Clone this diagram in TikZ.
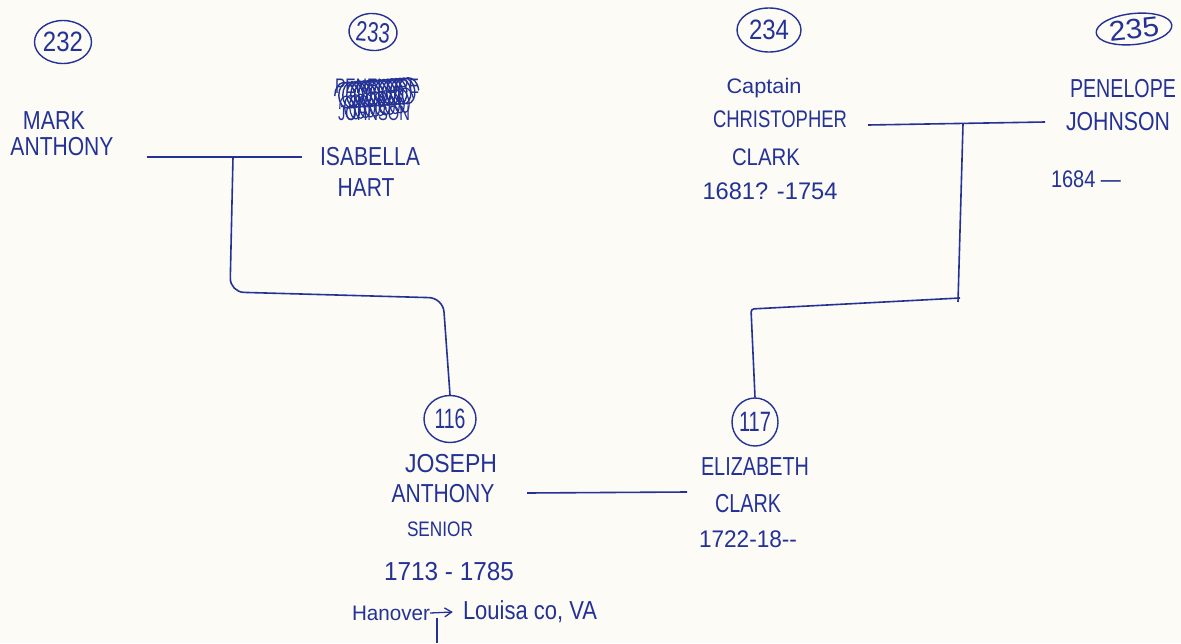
\documentclass[tikz,border=0pt]{standalone}
\usepackage{fontspec}
\setmainfont{Liberation Sans}
\usetikzlibrary{shapes.geometric,decorations.pathmorphing,arrows.meta}
\definecolor{ink}{RGB}{36,50,150}
\definecolor{paper}{RGB}{252,251,246}
\newcommand{\hw}[2]{\resizebox{#1pt}{\height}{#2}}
\tikzset{
  hw/.style={inner sep=0pt, text=ink, font=\fontsize{26}{27}\selectfont, anchor=center},
  mid/.style={hw, font=\fontsize{24}{25}\selectfont},
  small/.style={hw, font=\fontsize{21}{22}\selectfont},
  num/.style={ellipse, draw=ink, line width=1.4pt, inner sep=0pt, text=ink, font=\fontsize{28}{28}\selectfont},
  wire/.style={draw=ink, line width=1.6pt, rounded corners=10pt},
  scrib/.style={draw=ink, line width=1.4pt, decorate},
}
\begin{document}
\begin{tikzpicture}[x=1pt,y=-1pt]
\fill[paper] (0,0) rectangle (1181,643);
\useasboundingbox (0,0) rectangle (1181,643);

% generation 1, left couple
\node[num, minimum width=57pt, minimum height=43pt] (n232) at (63,42) {\hw{40}{232}};
\node[hw] (mark) at (54,121) {\hw{62}{MARK}};
\node[hw] (anthony) at (62,147) {\hw{103}{ANTHONY}};

\node[num, minimum width=48pt, minimum height=37pt, rotate=-5] (n233) at (373,32) {\hw{34}{233}};
\node[small] (pen1) at (377,86) {\hw{84}{PENELOPE}};
\node[small] (joh1) at (374,113) {\hw{72}{JOHNSON}};
\draw[scrib, decoration={coil, aspect=0.7, segment length=4pt, amplitude=13pt}]
  (pen1.west) ++(0,10) coordinate (s1) -- ++(84,-6) coordinate (s2);
\draw[scrib, line width=1.2pt, decoration={coil, aspect=0.5, segment length=5pt, amplitude=12pt}]
  (joh1.west) ++(2,-4) coordinate (s3) -- ++(74,-10) coordinate (s4);
\node[hw] (isabella) at (370,157) {\hw{100}{ISABELLA}};
\node[hw] (hart) at (366,188) {\hw{57}{HART}};

% generation 1, right couple
\node[num, minimum width=64pt, minimum height=44pt] (n234) at (769,30) {\hw{40}{234}};
\node[small] (captain) at (764,88) {\hw{75}{Captain}};
\node[mid] (christopher) at (780,119) {\hw{134}{CHRISTOPHER}};
\node[mid] (clark1) at (766,157) {\hw{68}{CLARK}};
\node[mid] (d234) at (770,191) {\hw{135}{1681? -1754}};

\node[num, minimum width=76pt, minimum height=31pt, rotate=6] (n235) at (1134,29) {\hw{50}{235}};
\node[hw] (penelope) at (1123,89) {\hw{106}{PENELOPE}};
\node[hw] (johnson) at (1118,122) {\hw{104}{JOHNSON}};
\node[mid] (d235) at (1086,179) {\hw{70}{1684 —}};

% generation 2
\node[num, minimum width=52pt, minimum height=47pt] (n116) at (450,419) {\hw{31}{116}};
\node[hw] (joseph) at (451,464) {\hw{92}{JOSEPH}};
\node[hw] (anthony2) at (443,494) {\hw{103}{ANTHONY}};
\node[small] (senior) at (440,529) {\hw{66}{SENIOR}};
\node[hw] (d116) at (449,572) {\hw{130}{1713 - 1785}};
\node[small] (hanover) at (391,613) {\hw{78}{Hanover}};
\node[hw] (louisa) at (530,612) {\hw{134}{Louisa co, VA}};

\node[num, minimum width=46pt, minimum height=48pt] (n117) at (755,422) {\hw{32}{117}};
\node[hw] (elizabeth) at (755,467) {\hw{108}{ELIZABETH}};
\node[hw] (clark2) at (748,504) {\hw{66}{CLARK}};
\node[mid] (d117) at (748,539) {\hw{98}{1722-18-{}-}};

% junction coordinates
\coordinate (a1) at (147,157);
\coordinate (a2) at (302,157);
\coordinate (ja) at (233,157);
\coordinate (b1) at (868,125);
\coordinate (b2) at (1045,122);
\coordinate (jb) at (963,124);
\coordinate (c1) at (527,493);
\coordinate (c2) at (687,492);
\coordinate (bot) at (437,643);

% couple lines
\draw[wire] (a1) -- (a2);
\draw[wire] (b1) -- (b2);
\draw[wire] (c1) -- (c2);

% descent lines
\draw[wire, rounded corners=14pt] (ja) -- (230,292) -- (443,298) -- (n116.north);
\draw[wire, rounded corners=2pt] (jb) -- (958,302);
\draw[wire, rounded corners=3pt] (960,298) -- (751,309) -- (n117.north);

% migration arrow
\draw[draw=ink, line width=1.3pt, -{Straight Barb[length=7pt,width=9pt]}] (hanover.east) -- ([xshift=-10pt]louisa.west);
\draw[draw=ink, line width=1.3pt] (437,618) -- (bot);
\end{tikzpicture}
\end{document}
